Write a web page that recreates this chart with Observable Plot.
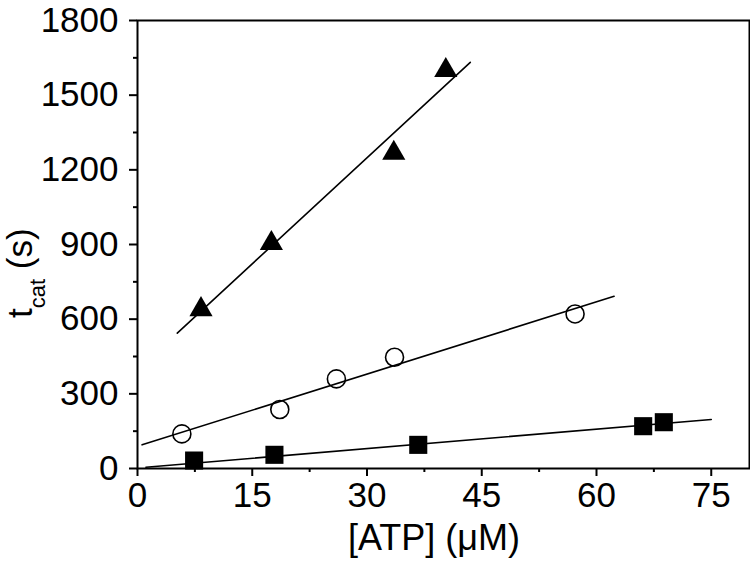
<!DOCTYPE html>
<html>
<head>
<meta charset="utf-8">
<script src="https://cdn.jsdelivr.net/npm/d3@7"></script>
<script src="https://cdn.jsdelivr.net/npm/@observablehq/plot@0.6"></script>
<style>
  html, body { margin: 0; padding: 0; background: white; }
</style>
</head>
<body>
<div id="chart"></div>
<script>
// ---- data ----
const triX = [8.3, 17.5, 33.5, 40.3];
const triY = [639, 905, 1267, 1600];
const circX = [5.8, 18.6, 26.0, 33.6, 57.2];
const circY = [139, 237, 360, 447, 621];
const sqX = [7.4, 17.9, 36.7, 66.1, 68.8];
const sqY = [32, 55, 95, 170, 186];

// fitted straight lines (end points)
const triFitX = [5.2, 43.5];
const triFitY = [544, 1632];
const circFitX = [0.6, 62.3];
const circFitY = [95, 692];
const sqFitX = [1.1, 75];
const sqFitY = [5, 197];

// ticks
const xTicks = [0, 15, 30, 45, 60, 75];
const xMinor = [7.5, 22.5, 37.5, 52.5, 67.5];
const yTicks = [0, 300, 600, 900, 1200, 1500, 1800];
const yMinor = [150, 450, 750, 1050, 1350, 1650];

const xLabel = "[ATP] (μM)";
const yLabelMain = "t";
const yLabelSub = "cat";
const yLabelUnit = " (s)";

const zip = (xs, ys) => xs.map((x, i) => ({x, y: ys[i]}));

const font = "'Liberation Sans', Arial, Helvetica, sans-serif";

const chart = Plot.plot({
  width: 750,
  height: 564,
  marginLeft: 137,
  marginRight: 1,
  marginTop: 20,
  marginBottom: 96,
  style: {fontFamily: font, fontSize: "35px", color: "black", background: "white", overflow: "visible"},
  x: {domain: [0, 80]},
  y: {domain: [0, 1800]},
  marks: [
    Plot.frame({stroke: "black", strokeWidth: 2}),
    Plot.axisX({ticks: xTicks, tickSize: 8, tickPadding: 6, strokeWidth: 2, fontSize: 35, tickFormat: d3.format("d"), label: null}),
    Plot.axisX({ticks: xMinor, tickSize: 4, strokeWidth: 2, tickFormat: () => "", label: null}),
    Plot.axisY({ticks: yTicks, tickSize: 8, tickPadding: 11, strokeWidth: 2, fontSize: 35, tickFormat: d3.format("d"), label: null}),
    Plot.axisY({ticks: yMinor, tickSize: 4, strokeWidth: 2, tickFormat: () => "", label: null}),
    Plot.line(zip(triFitX, triFitY), {x: "x", y: "y", stroke: "black", strokeWidth: 1.6}),
    Plot.line(zip(circFitX, circFitY), {x: "x", y: "y", stroke: "black", strokeWidth: 1.6}),
    Plot.line(zip(sqFitX, sqFitY), {x: "x", y: "y", stroke: "black", strokeWidth: 1.6}),
    Plot.dot(zip(triX, triY), {x: "x", y: "y", symbol: "triangle", r: 8.6, fill: "black", stroke: "none"}),
    Plot.dot(zip(circX, circY), {x: "x", y: "y", symbol: "circle", r: 9, fill: "none", stroke: "black", strokeWidth: 1.6}),
    Plot.dot(zip(sqX, sqY), {x: "x", y: "y", symbol: "square", r: 10.2, fill: "black", stroke: "none"})
  ]
});

document.getElementById("chart").appendChild(chart);

// axis titles (real text, with subscript)
const svg = d3.select(chart);
svg.append("text")
  .attr("x", 434)
  .attr("y", 550)
  .attr("text-anchor", "middle")
  .attr("font-family", font)
  .attr("font-size", 36)
  .attr("fill", "black")
  .text(xLabel);

const yl = svg.append("text")
  .attr("transform", "translate(32,318) rotate(-90)")
  .attr("text-anchor", "start")
  .attr("font-family", font)
  .attr("font-size", 35)
  .attr("fill", "black");
yl.append("tspan").text(yLabelMain);
yl.append("tspan").attr("dy", 13).attr("font-size", 22).text(yLabelSub);
yl.append("tspan").attr("dy", -13).text(yLabelUnit);
</script>
</body>
</html>
